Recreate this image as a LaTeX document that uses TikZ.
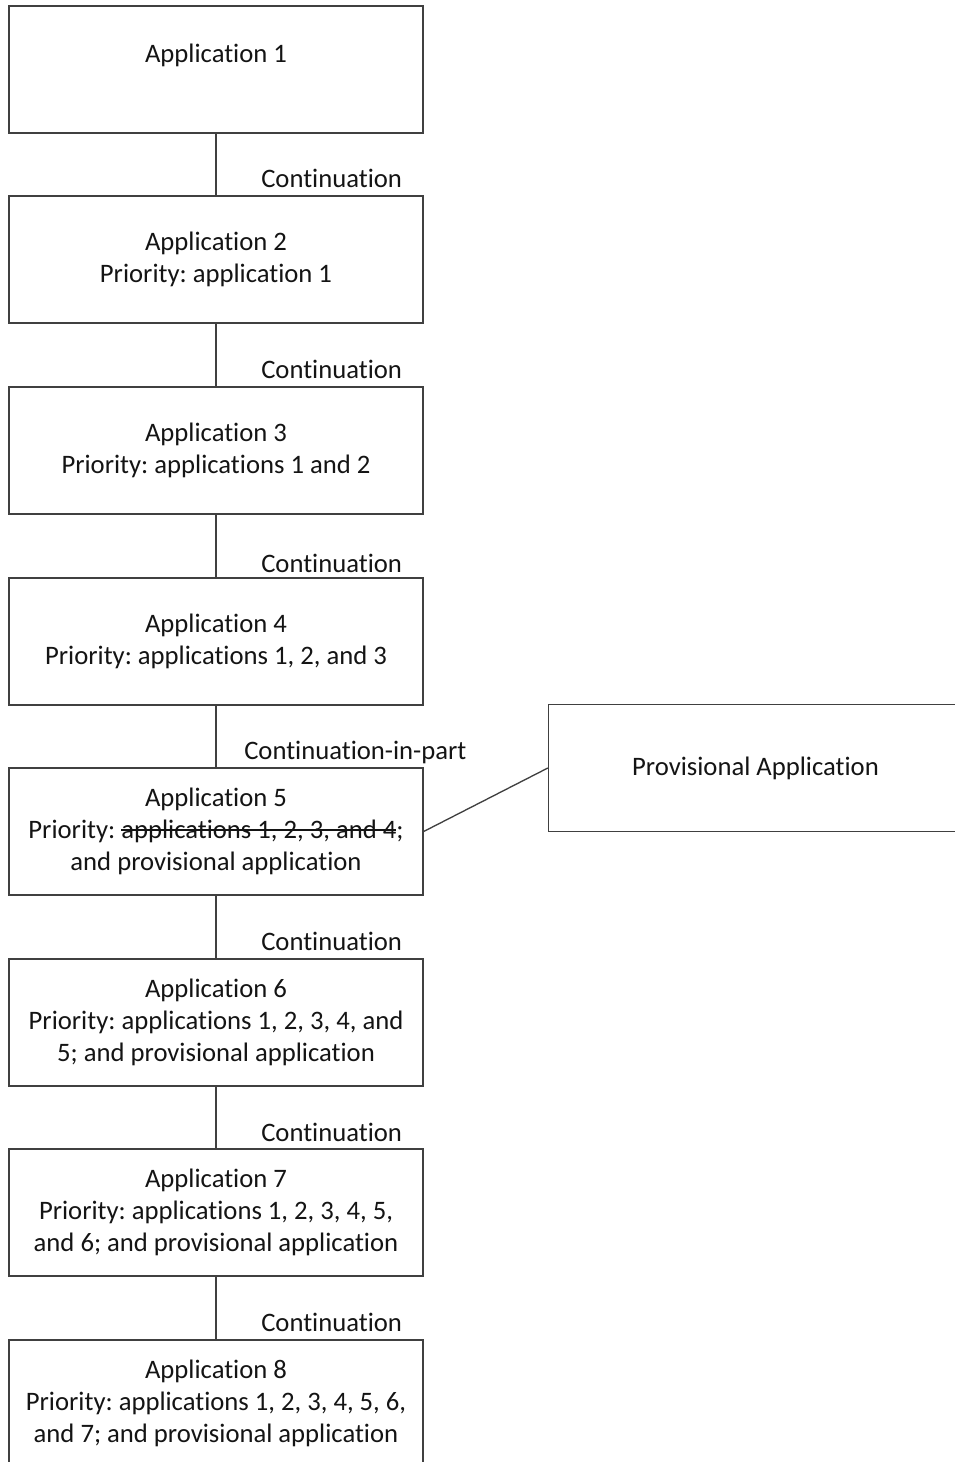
\documentclass[tikz,border=0pt]{standalone}
\usepackage{fontspec}
\setmainfont{Carlito}[Ligatures=NoCommon]
\usepackage{tikz}
\usetikzlibrary{positioning}
\definecolor{boxline}{RGB}{64, 64, 64}
\definecolor{txtcol}{RGB}{20, 20, 20}
\newlength\strkwd
\newcommand{\strk}[1]{\settowidth{\strkwd}{#1}\rlap{#1}\rule[0.3em]{\strkwd}{0.06em}}
\frenchspacing

\begin{document}
\begin{tikzpicture}[x=0.75pt, y=-0.75pt,
  appbox/.style={rectangle, draw=boxline, line width=1pt, fill=white,
                 minimum width=310.5pt, minimum height=95.25pt, inner sep=0pt,
                 align=center, text=txtcol, font=\fontsize{20}{24}\selectfont},
  link/.style={draw=boxline, line width=1pt},
  lbl/.style={anchor=base west, inner sep=0pt, text=txtcol,
              font=\fontsize{20}{24}\selectfont}
]
\clip (0,0) rectangle (955,1462);
\useasboundingbox (0,0) rectangle (955,1462);

\node[appbox] (A1) at (216,69.5) {Application 1\\ \mbox{}};
\node[appbox] (A2) at (216,259.5) {Application 2\\ Priority: application 1};
\node[appbox] (A3) at (216,450.5) {Application 3\\ Priority: applications 1 and 2};
\node[appbox] (A4) at (216,641.5) {Application 4\\ Priority: applications 1, 2, and 3};
\node[appbox] (A5) at (216,831.5) {Application 5\\
  Priority: \strk{applications 1, 2, 3, and 4};\\ and provisional application};
\node[appbox] (A6) at (216,1022.5) {Application 6\\
  Priority: applications 1, 2, 3, 4, and\\ 5; and provisional application};
\node[appbox] (A7) at (216,1212.5) {Application 7\\
  Priority: applications 1, 2, 3, 4, 5,\\ and 6; and provisional application};
\node[appbox] (A8) at (216,1403.5) {Application 8\\
  Priority: applications 1, 2, 3, 4, 5, 6,\\ and 7; and provisional application};

\node[appbox] (PA) at (755.5,768) {Provisional Application};

\draw[link] (A1) -- (A2);
\draw[link] (A2) -- (A3);
\draw[link] (A3) -- (A4);
\draw[link] (A4) -- (A5);
\draw[link] (A5) -- (A6);
\draw[link] (A6) -- (A7);
\draw[link] (A7) -- (A8);
\draw[link] (A5.east) -- (PA.west);

\node[lbl] (L12) at (261,188) {Continuation};
\node[lbl] (L23) at (261,378) {Continuation};
\node[lbl] (L34) at (261,572) {Continuation};
\node[lbl] (L45) at (244,759) {Continuation-in-part};
\node[lbl] (L56) at (261,950) {Continuation};
\node[lbl] (L67) at (261,1141) {Continuation};
\node[lbl] (L78) at (261,1331) {Continuation};
\end{tikzpicture}
\end{document}
